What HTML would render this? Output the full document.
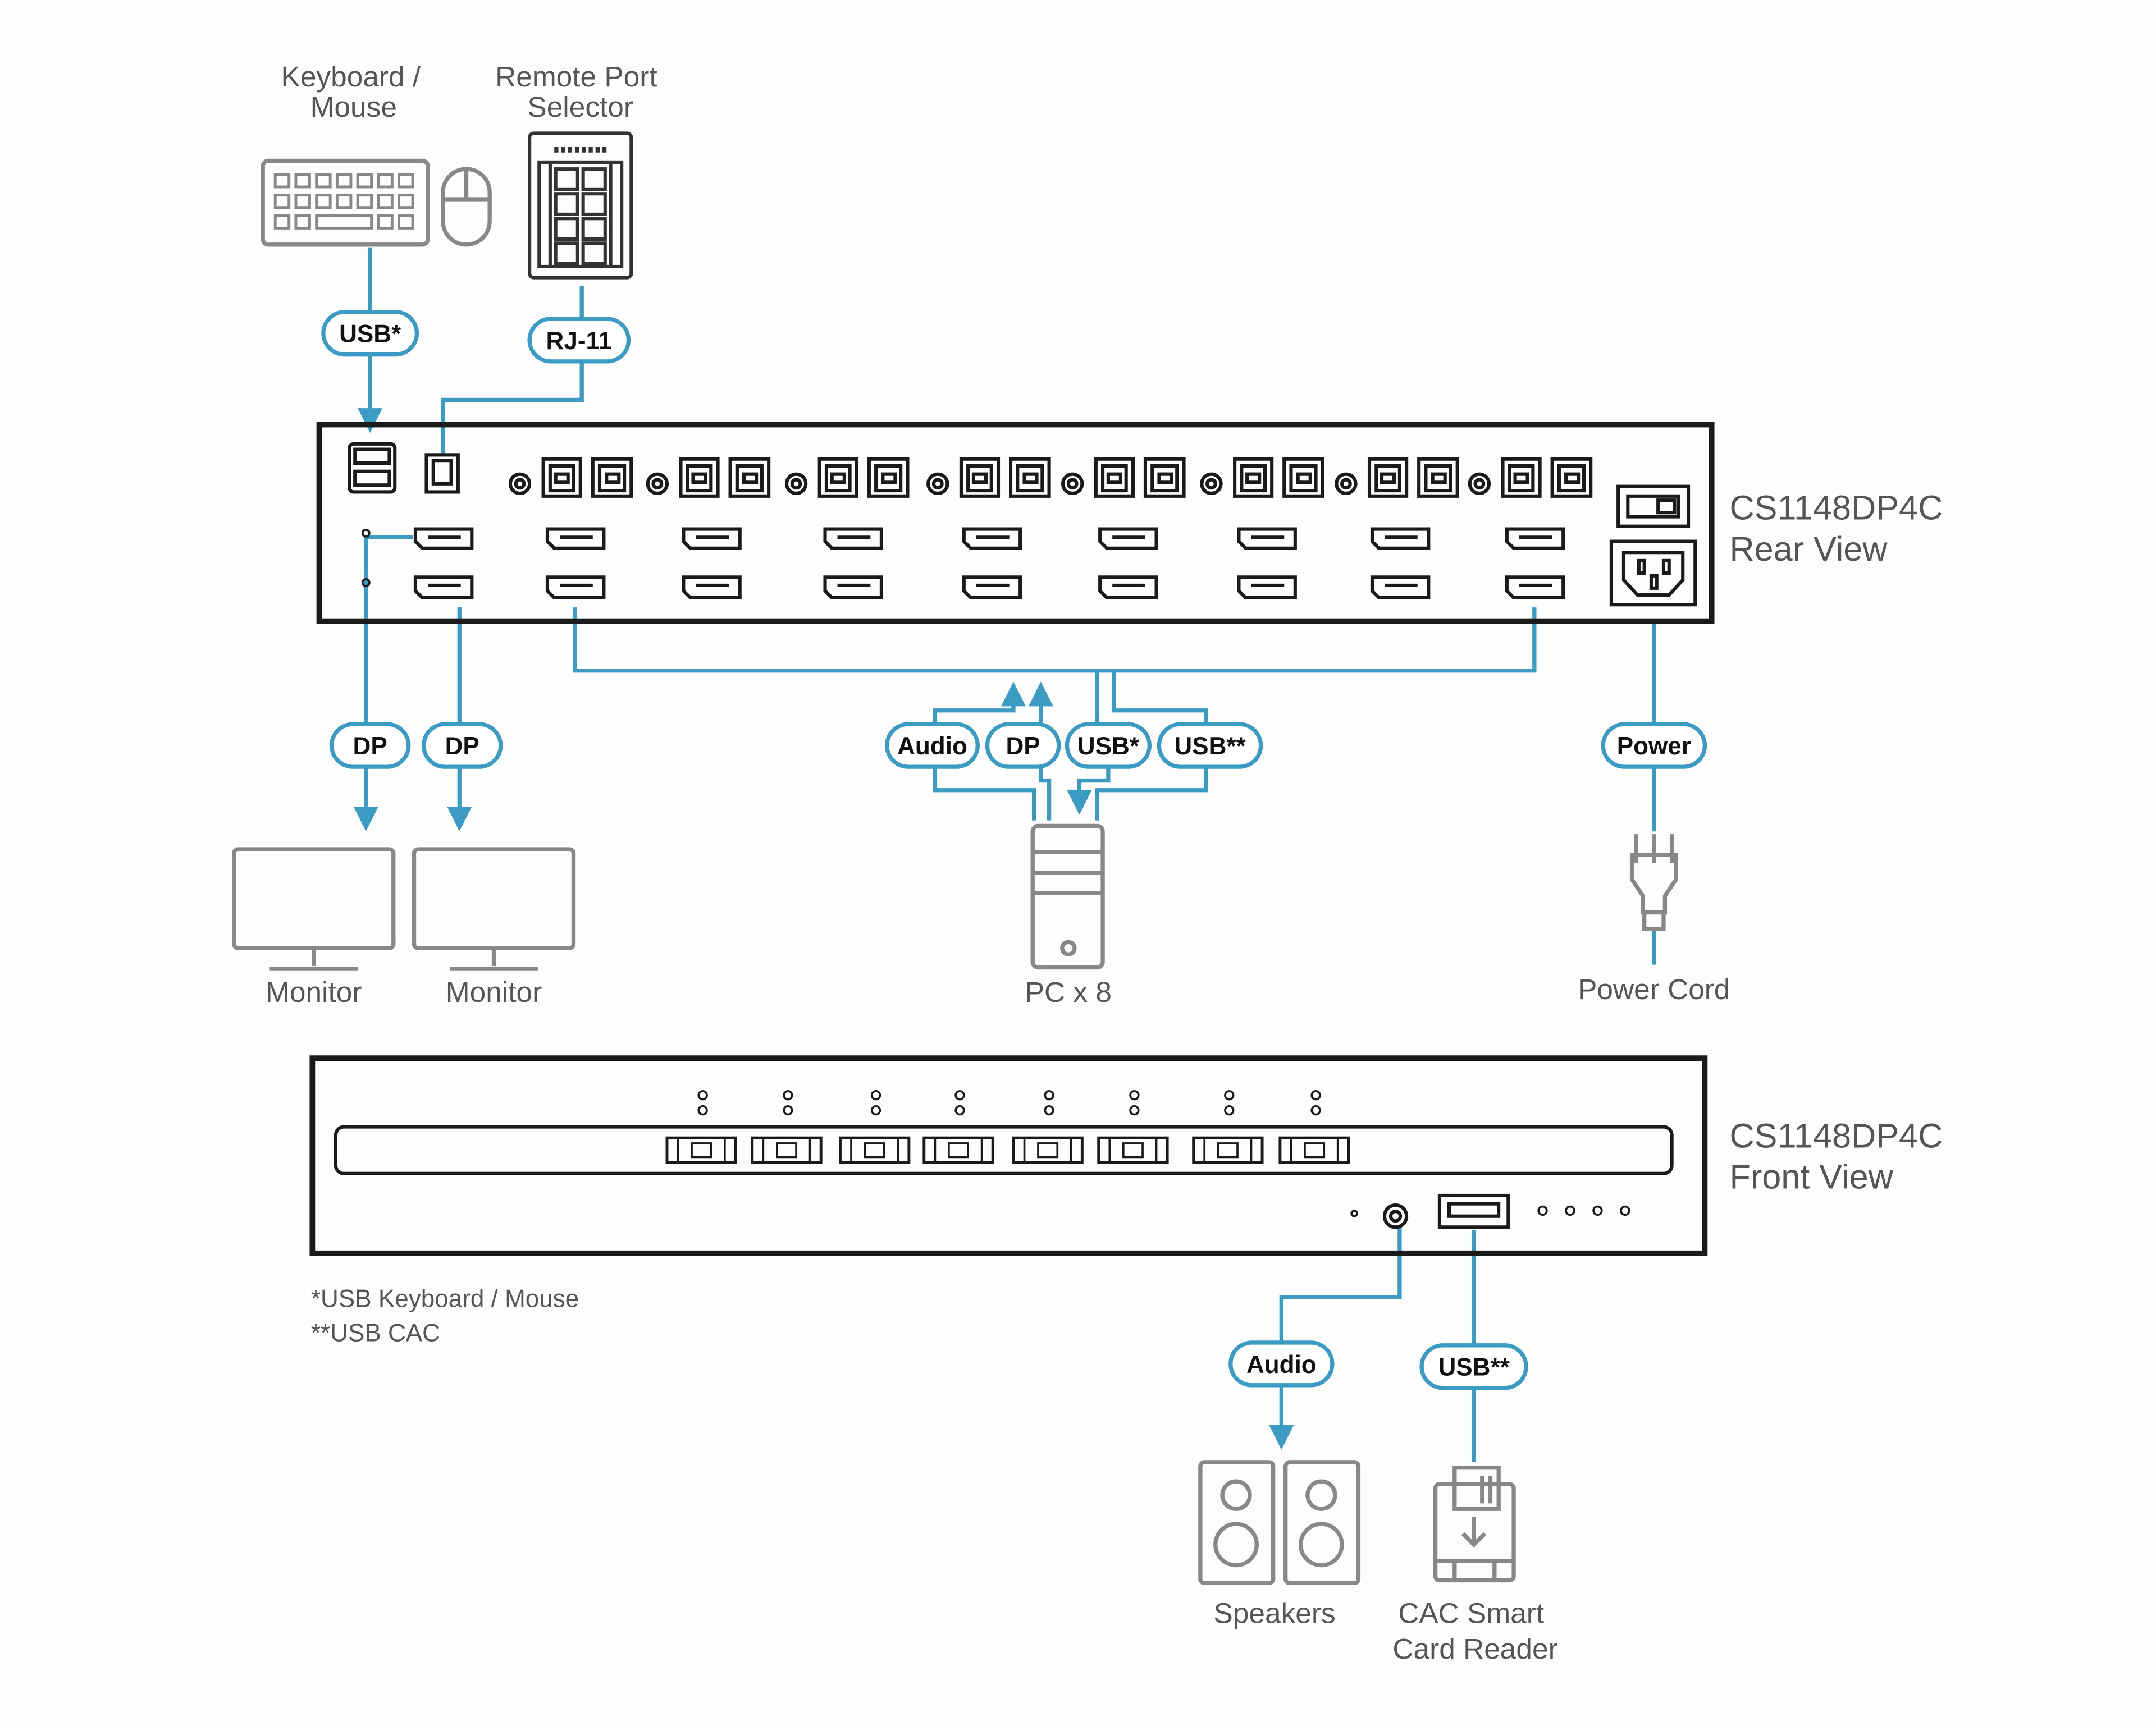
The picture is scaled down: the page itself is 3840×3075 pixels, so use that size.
<!DOCTYPE html>
<html><head><meta charset="utf-8"><style>
html,body{margin:0;padding:0;background:#fdfdfd;}
svg{display:block;}
text{font-family:"Liberation Sans",sans-serif;}
</style></head><body>
<svg width="3840" height="3075" viewBox="0 0 1568 1256" xmlns="http://www.w3.org/2000/svg">
<defs>
<marker id="ah" markerWidth="6" markerHeight="6" refX="3" refY="3" orient="auto" markerUnits="strokeWidth"><path d="M0,0 L6,3 L0,6 z" fill="#3b9bc3"/></marker>
</defs>
<rect width="1568" height="1256" fill="#fdfdfd"/>
<g fill="none" stroke="#3b9bc3" stroke-width="3">
<!-- keyboard usb -->
<path d="M269 180 V306" marker-end="url(#ah)"/>
<path d="M423 208 V291 H322 V330"/>
<path d="M300 391 H266 V596" marker-end="url(#ah)"/>
<path d="M334 442 V596" marker-end="url(#ah)"/>
<path d="M418 442 V488 H1116 V442"/>
<path d="M680 527 V517 H737 V505" marker-end="url(#ah)"/>
<path d="M757 527 V505" marker-end="url(#ah)"/>
<path d="M680 557 V575 H752 V597"/>
<path d="M757 557 V568 H763 V597"/>
<path d="M798 488 V527"/>
<path d="M806 557 V568 H785 V584" marker-end="url(#ah)"/>
<path d="M810 488 V517 H877 V527"/>
<path d="M877 557 V575 H798 V597"/>
<path d="M1203 453 V605"/>
<path d="M1203 676 V702"/>
<path d="M1018 893 V944 H932 V1046" marker-end="url(#ah)"/>
<path d="M1072 895 V1064"/>
</g>
<!-- pills -->
<g stroke="#3b9bc3" stroke-width="3" fill="#fff">
<rect x="235" y="227" width="68" height="31" rx="15.5"/>
<rect x="385" y="232" width="72" height="31" rx="15.5"/>
<rect x="241" y="527" width="56" height="31" rx="15.5"/>
<rect x="308" y="527" width="56" height="31" rx="15.5"/>
<rect x="645" y="527" width="66" height="31" rx="15.5"/>
<rect x="718" y="527" width="52" height="31" rx="15.5"/>
<rect x="776" y="527" width="60" height="31" rx="15.5"/>
<rect x="843" y="527" width="74" height="31" rx="15.5"/>
<rect x="1166" y="527" width="74" height="31" rx="15.5"/>
<rect x="895" y="977" width="74" height="31" rx="15.5"/>
<rect x="1034" y="979" width="76" height="31" rx="15.5"/>
</g>
<g font-weight="bold" font-size="18" fill="#111" text-anchor="middle">
<text x="269" y="249">USB*</text>
<text x="421" y="254">RJ-11</text>
<text x="269" y="549">DP</text>
<text x="336" y="549">DP</text>
<text x="678" y="549">Audio</text>
<text x="744" y="549">DP</text>
<text x="806" y="549">USB*</text>
<text x="880" y="549">USB**</text>
<text x="1203" y="549">Power</text>
<text x="932" y="999">Audio</text>
<text x="1072" y="1001">USB**</text>
</g>
<!-- labels -->
<g font-size="21" fill="#555" text-anchor="middle">
<text x="255" y="63">Keyboard /</text>
<text x="257" y="85">Mouse</text>
<text x="419" y="63">Remote Port</text>
<text x="422" y="85">Selector</text>
<text x="228" y="729">Monitor</text>
<text x="359" y="729">Monitor</text>
<text x="777" y="729">PC x 8</text>
<text x="1203" y="727">Power Cord</text>
<text x="927" y="1181">Speakers</text>
<text x="1070" y="1181">CAC Smart</text>
<text x="1073" y="1207">Card Reader</text>
</g>
<g font-size="25" fill="#555">
<text x="1258" y="378">CS1148DP4C</text>
<text x="1258" y="408">Rear View</text>
<text x="1258" y="835">CS1148DP4C</text>
<text x="1258" y="865">Front View</text>
</g>
<g font-size="18" fill="#555">
<text x="226" y="951">*USB Keyboard / Mouse</text>
<text x="226" y="976">**USB CAC</text>
</g>
<!-- keyboard/mouse -->
<g fill="none" stroke="#888" stroke-width="3">
<rect x="191" y="117" width="120" height="61" rx="4"/>
<g stroke-width="2">
<rect x="200" y="127" width="10" height="9"/><rect x="215" y="127" width="10" height="9"/><rect x="230" y="127" width="10" height="9"/><rect x="245" y="127" width="10" height="9"/><rect x="260" y="127" width="10" height="9"/><rect x="275" y="127" width="10" height="9"/><rect x="290" y="127" width="10" height="9"/>
<rect x="200" y="142" width="10" height="9"/><rect x="215" y="142" width="10" height="9"/><rect x="230" y="142" width="10" height="9"/><rect x="245" y="142" width="10" height="9"/><rect x="260" y="142" width="10" height="9"/><rect x="275" y="142" width="10" height="9"/><rect x="290" y="142" width="10" height="9"/>
<rect x="200" y="157" width="10" height="9"/><rect x="215" y="157" width="10" height="9"/><rect x="230" y="157" width="40" height="9"/><rect x="275" y="157" width="10" height="9"/><rect x="290" y="157" width="10" height="9"/>
</g>
<rect x="322" y="123" width="34" height="55" rx="17"/>
<path d="M322 145 H356 M339 123 V145"/>
</g>
<!-- remote selector -->
<g fill="none" stroke="#333" stroke-width="2.5">
<rect x="385" y="97" width="74" height="105" rx="3"/>
<rect x="392" y="118" width="60" height="76"/>
<path d="M400 118 V194 M444 118 V194"/>
<rect x="404" y="123" width="16" height="15"/><rect x="424" y="123" width="16" height="15"/>
<rect x="404" y="141" width="16" height="15"/><rect x="424" y="141" width="16" height="15"/>
<rect x="404" y="159" width="16" height="15"/><rect x="424" y="159" width="16" height="15"/>
<rect x="404" y="177" width="16" height="15"/><rect x="424" y="177" width="16" height="15"/>
<path d="M403 109 H441" stroke-width="4" stroke-dasharray="3 2"/>
</g>
<!-- rear panel -->
<g fill="none" stroke="#1a1a1a" stroke-width="2.5">
<rect x="232" y="309" width="1013" height="143" stroke-width="4"/>
<rect x="254" y="323" width="33" height="35" rx="3"/>
<rect x="258" y="327" width="25" height="10"/><rect x="258" y="343" width="25" height="10"/>
<rect x="310" y="331" width="23" height="27"/><rect x="315" y="335" width="13" height="17"/>
<g id="grp">
<circle cx="378" cy="352" r="7"/><circle cx="378" cy="352" r="3"/>
<rect x="395" y="334" width="27" height="27"/><path d="M400 339 h17 v18 h-17z"/><rect x="404" y="345" width="9" height="6"/>
<rect x="431" y="334" width="28" height="27"/><path d="M436 339 h18 v18 h-18z"/><rect x="441" y="345" width="9" height="6"/>
</g>
<use href="#grp" x="100"/><use href="#grp" x="201"/><use href="#grp" x="304"/><use href="#grp" x="402"/><use href="#grp" x="503"/><use href="#grp" x="601"/><use href="#grp" x="698"/>
<g id="dp">
<path d="M302 385 H343 V399 H307 L302 394 Z"/><path d="M311 391 H335"/>
<path d="M302 420 H343 V435 H307 L302 430 Z"/><path d="M311 426 H335"/>
</g>
<use href="#dp" x="96"/><use href="#dp" x="195"/><use href="#dp" x="298"/><use href="#dp" x="399"/><use href="#dp" x="498"/><use href="#dp" x="599"/><use href="#dp" x="696"/><use href="#dp" x="794"/>
<circle cx="266" cy="388" r="2.5" stroke-width="1.5"/><circle cx="266" cy="424" r="2.5" stroke-width="1.5"/>
<rect x="1177" y="354" width="51" height="29"/><rect x="1184" y="361" width="37" height="15"/><rect x="1206" y="364" width="12" height="9"/>
<rect x="1172" y="394" width="61" height="46"/>
<path d="M1181 402 H1224 V422 L1214 433 H1191 L1181 422 Z"/>
<rect x="1192" y="408" width="4" height="9"/><rect x="1210" y="408" width="4" height="9"/><rect x="1201" y="419" width="4" height="9"/>
</g>
<!-- monitors -->
<g fill="none" stroke="#888" stroke-width="3">
<rect x="170" y="618" width="116" height="72" rx="3"/><path d="M228 690 V703 M196 705 H260"/>
<rect x="301" y="618" width="116" height="72" rx="3"/><path d="M359 690 V703 M327 705 H391"/>
<!-- PC -->
<rect x="751" y="601" width="51" height="103" rx="4"/>
<path d="M751 620 H802 M751 635 H802 M751 650 H802"/>
<circle cx="777" cy="690" r="4.5"/>
<!-- plug -->
<path d="M1190 607 V628 M1203 607 V628 M1216 607 V628"/>
<path d="M1187 622 H1219 V640 L1211 652 V664 H1195 V652 L1187 640 Z"/>
<path d="M1196 664 V676 H1210 V664"/>
<!-- speakers -->
<rect x="873" y="1064" width="53" height="88" rx="3"/>
<circle cx="899" cy="1088" r="10"/><circle cx="899" cy="1124" r="15"/>
<rect x="935" y="1064" width="53" height="88" rx="3"/>
<circle cx="961" cy="1088" r="10"/><circle cx="961" cy="1124" r="15"/>
<!-- card reader -->
<path d="M1058 1068 H1090 V1098 H1058 Z M1078 1074 V1094 M1084 1074 V1094"/>
<rect x="1044" y="1080" width="57" height="70" rx="3"/>
<path d="M1044 1136 H1101 M1058 1136 V1150 M1087 1136 V1150"/>
<path d="M1072 1104 V1124 M1064 1116 L1072 1124 L1080 1116"/>
</g>
<!-- front panel -->
<g fill="none" stroke="#1a1a1a" stroke-width="2.5">
<rect x="227" y="770" width="1013" height="142" stroke-width="4"/>
<rect x="244" y="820" width="972" height="34" rx="6"/>
<g id="btn">
<circle cx="511" cy="797" r="3" stroke-width="1.5"/><circle cx="511" cy="808" r="3" stroke-width="1.5"/>
<rect x="485" y="828" width="50" height="18" stroke-width="2"/>
<path d="M493 828 V846 M527 828 V846 M503 832 H517 V842 H503 Z" stroke-width="1.5"/>
</g>
<use href="#btn" x="62"/><use href="#btn" x="126"/><use href="#btn" x="187"/><use href="#btn" x="252"/><use href="#btn" x="314"/><use href="#btn" x="383"/><use href="#btn" x="446"/>
<circle cx="985" cy="883" r="2" stroke-width="1.5"/>
<circle cx="1015" cy="885" r="8"/><circle cx="1015" cy="885" r="3.5"/>
<rect x="1047" y="870" width="50" height="23"/><rect x="1054" y="876" width="36" height="9"/>
<g stroke-width="1.5"><circle cx="1122" cy="881" r="3"/><circle cx="1142" cy="881" r="3"/><circle cx="1162" cy="881" r="3"/><circle cx="1182" cy="881" r="3"/></g>
</g>
</svg>
</body></html>
